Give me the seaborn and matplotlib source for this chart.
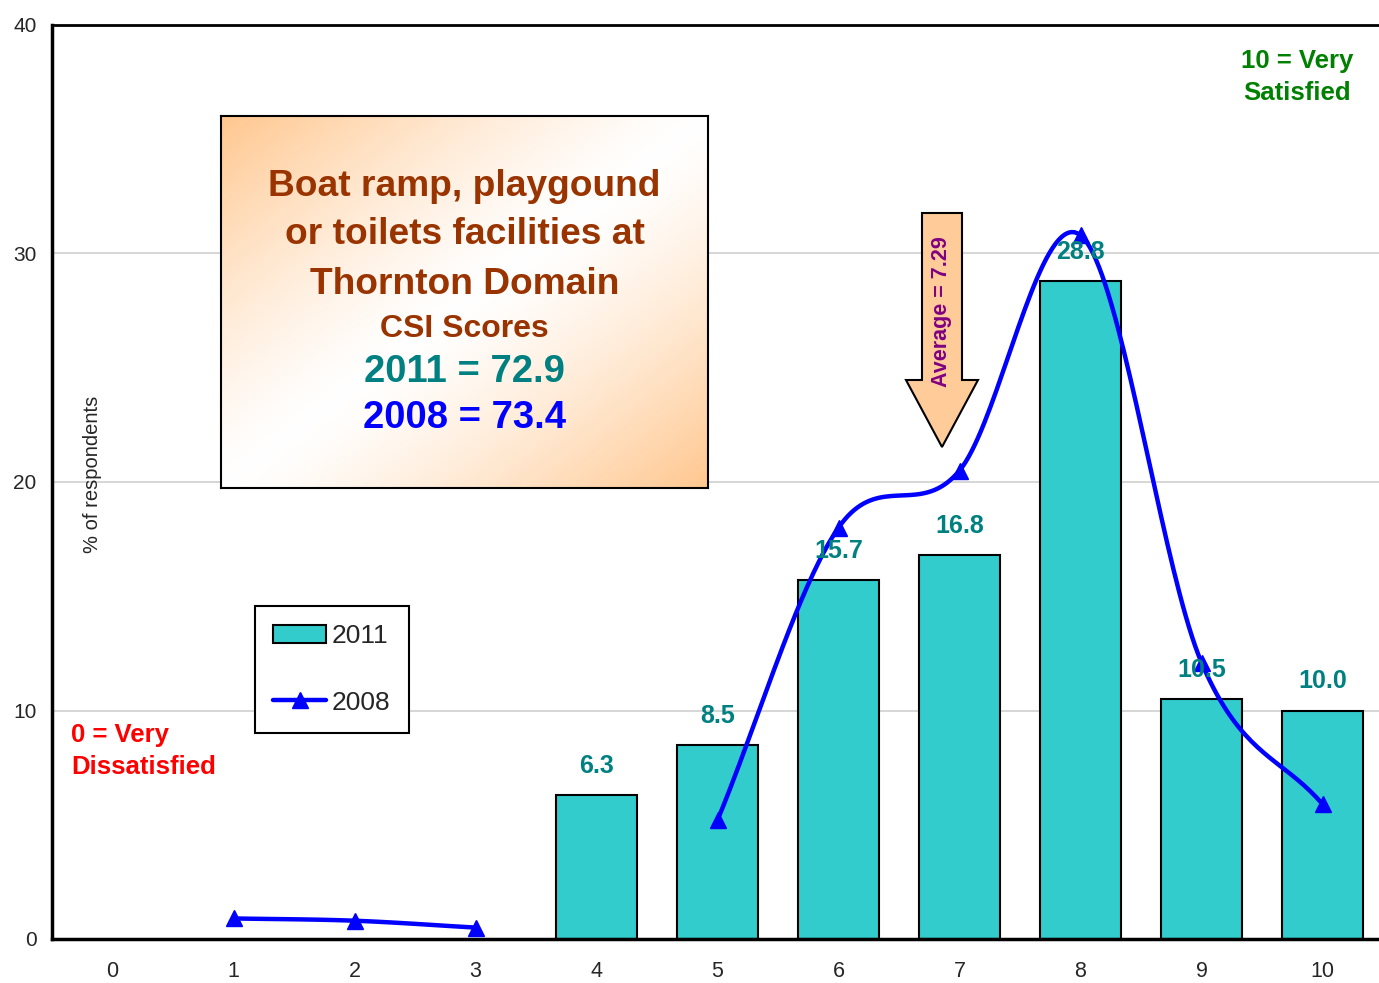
import numpy as np
import pandas as pd
import seaborn as sns
import matplotlib.pyplot as plt
from matplotlib.patches import Polygon, Rectangle
from matplotlib.lines import Line2D

# data
scores = list(range(11))
bar_scores = [4, 5, 6, 7, 8, 9, 10]
pct_2011 = [6.3, 8.5, 15.7, 16.8, 28.8, 10.5, 10.0]
line_scores_a = [1, 2, 3]
pct_2008_a = [0.9, 0.8, 0.5]
line_scores_b = [5, 6, 7, 8, 9, 10]
pct_2008_b = [5.2, 18.0, 20.5, 30.8, 12.1, 5.9]

W, H = 1379, 983
sns.set_style("white")
plt.rcParams['font.family'] = ['Liberation Sans', 'DejaVu Sans']

fig = plt.figure(figsize=(W / 100, H / 100), dpi=100)
ax = fig.add_axes([52 / W, (H - 939) / H, (1383 - 52) / W, (939 - 25) / H])

df = pd.DataFrame({"score": bar_scores, "pct": pct_2011})
sns.barplot(data=df, x="score", y="pct", order=scores, color="#33CCCC",
            saturation=1, width=0.67, edgecolor="black", linewidth=1.5, ax=ax, zorder=2)


def smooth(xs, ys, n=40):
    # catmull-rom curve through the points, like excel's smoothed line
    xs = np.asarray(xs, float)
    ys = np.asarray(ys, float)
    px = np.concatenate([[2 * xs[0] - xs[1]], xs, [2 * xs[-1] - xs[-2]]])
    py = np.concatenate([[2 * ys[0] - ys[1]], ys, [2 * ys[-1] - ys[-2]]])
    outx, outy = [], []
    t = np.linspace(0, 1, n)
    for i in range(1, len(px) - 2):
        for p, out in ((px, outx), (py, outy)):
            p0, p1, p2, p3 = p[i - 1], p[i], p[i + 1], p[i + 2]
            out.extend(0.5 * (2 * p1 + (-p0 + p2) * t + (2 * p0 - 5 * p1 + 4 * p2 - p3) * t ** 2
                              + (-p0 + 3 * p1 - 3 * p2 + p3) * t ** 3))
    return outx, outy


for xs, ys in ((line_scores_a, pct_2008_a), (line_scores_b, pct_2008_b)):
    sx, sy = smooth(xs, ys)
    ax.plot(sx, sy, color="#0000FF", lw=3.2, zorder=3)
    ax.plot(xs, ys, ls="none", marker="^", ms=11, color="#0000FF", zorder=4)

for x, v in zip(bar_scores, pct_2011):
    ax.text(x, v + 0.75, f"{v:.1f}", ha="center", va="bottom", color="#008080",
            fontsize=18, fontweight="bold", zorder=5)

ax.set_xlim(-0.5, 10.5)
ax.set_ylim(0, 40)
ax.set_yticks([0, 10, 20, 30, 40])
ax.set_xticks(np.arange(-0.5, 10.5, 1), minor=False)
ax.set_xticklabels([])
ax.set_xticks(scores, minor=True)
ax.set_xticklabels([str(s) for s in scores], minor=True)
ax.tick_params(axis="x", which="major", direction="out", length=7, width=2, color="black")
ax.tick_params(axis="x", which="minor", length=0, labelsize=15.5, pad=16)
ax.tick_params(axis="y", direction="out", length=7, width=2, color="black", labelsize=15, pad=4)
ax.set_xlabel("")
ax.set_ylabel("")
ax.yaxis.grid(True, color="#D0D0D0", lw=1.2)
ax.set_axisbelow(True)
for s in ("left", "bottom"):
    ax.spines[s].set_linewidth(2.5)
    ax.spines[s].set_color("black")
ax.spines["top"].set_linewidth(2)
ax.spines["top"].set_color("black")
ax.spines["right"].set_visible(False)

fig.text(92 / W, 1 - 474 / H, "% of respondents", rotation=90, ha="center", va="center",
         fontsize=14.5)

fig.text(71 / W, 1 - 751 / H, "0 = Very\nDissatisfied", color="#FF0000", fontsize=18.5,
         fontweight="bold", ha="left", va="center", linespacing=1.45)
fig.text(1353 / W, 1 - 77 / H, "10 = Very\nSatisfied", color="#008000", fontsize=18.5,
         fontweight="bold", ha="right", va="center", linespacing=1.45, multialignment="center")

# legend
ax.legend(handles=[Rectangle((0, 0), 1, 1, fc="#33CCCC", ec="black", lw=1.5),
                   Line2D([], [], color="#0000FF", lw=3.2, marker="^", ms=11)],
          labels=["2011", "2008"], loc="upper left",
          bbox_to_anchor=((255 - 52) / (1383 - 52), (939 - 606) / (939 - 25)),
          fontsize=19, frameon=True, fancybox=False, edgecolor="black",
          framealpha=1, labelspacing=1.6, handlelength=2.0, handletextpad=0.2,
          borderpad=0.7, borderaxespad=0).get_frame().set_linewidth(1.5)

# gradient title box
bx = fig.add_axes([221 / W, 1 - 488 / H, (708 - 221) / W, (488 - 116) / H])
u, v = np.meshgrid(np.linspace(0, 1, 300), np.linspace(0, 1, 300))
s = np.abs((u + v) / 2 - 0.5) * 2
orange = np.array([1.0, 0.78, 0.56])
img = 1 - s[..., None] ** 1.3 * (1 - orange)
bx.imshow(img, extent=(0, 1, 0, 1), aspect="auto", origin="upper")
bx.set_xlim(0, 1)
bx.set_ylim(0, 1)
bx.set_xticks([])
bx.set_yticks([])
for sp in bx.spines.values():
    sp.set_linewidth(1.5)
    sp.set_color("black")
bx.text(0.5, 1 - (187 - 116) / 372, "Boat ramp, playgound", ha="center", va="center",
        color="#993300", fontsize=26.7, fontweight="bold", transform=bx.transAxes)
bx.text(0.5, 1 - (234 - 116) / 372, "or toilets facilities at", ha="center", va="center",
        color="#993300", fontsize=26.7, fontweight="bold", transform=bx.transAxes)
bx.text(0.5, 1 - (284 - 116) / 372, "Thornton Domain", ha="center", va="center",
        color="#993300", fontsize=26.7, fontweight="bold", transform=bx.transAxes)
bx.text(0.5, 1 - (329 - 116) / 372, "CSI Scores", ha="center", va="center",
        color="#993300", fontsize=23, fontweight="bold", transform=bx.transAxes)
bx.text(0.5, 1 - (372 - 116) / 372, "2011 = 72.9", ha="center", va="center",
        color="#008080", fontsize=27.5, fontweight="bold", transform=bx.transAxes)
bx.text(0.5, 1 - (418 - 116) / 372, "2008 = 73.4", ha="center", va="center",
        color="#0000FF", fontsize=27.5, fontweight="bold", transform=bx.transAxes)

# average arrow
arrow_px = [(922, 213), (962, 213), (962, 380), (978, 380), (942, 447), (906, 380), (922, 380)]
fig.patches.append(Polygon([(x / W, 1 - y / H) for x, y in arrow_px], closed=True,
                           transform=fig.transFigure, fc="#FFCC99", ec="black", lw=1.5,
                           zorder=6))
fig.text(942 / W, 1 - 312 / H, "Average = 7.29", rotation=90, ha="center", va="center",
         color="#800080", fontsize=15.5, fontweight="bold", zorder=7)

fig.savefig("out.png", dpi=100)
